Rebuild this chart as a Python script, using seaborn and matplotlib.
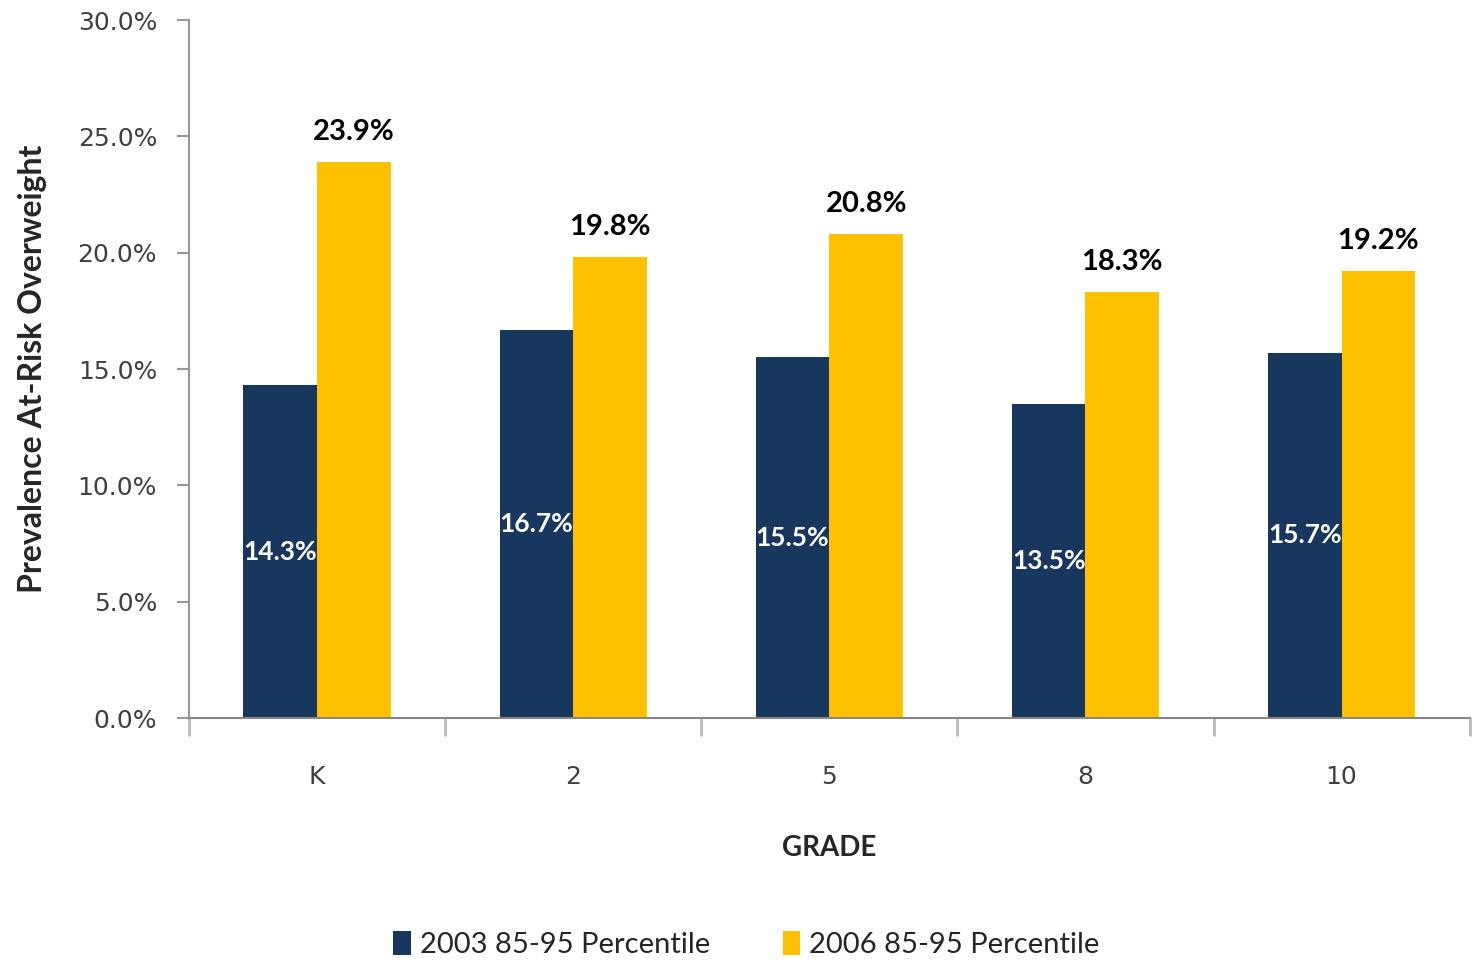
import matplotlib
matplotlib.use("Agg")
import matplotlib.pyplot as plt
import numpy as np
import pandas as pd
import seaborn as sns

# Chart data
grades = ["K", "2", "5", "8", "10"]
series_names = ["2003 85-95 Percentile", "2006 85-95 Percentile"]
values_2003 = [14.3, 16.7, 15.5, 13.5, 15.7]
values_2006 = [23.9, 19.8, 20.8, 18.3, 19.2]
y_ticks = [0, 5, 10, 15, 20, 25, 30]

colors = ["#17375E", "#FFC000"]


def main() -> None:
    """Main function"""
    df = pd.DataFrame(
        {
            "grade": grades * 2,
            "series": [series_names[0]] * len(grades) + [series_names[1]] * len(grades),
            "value": values_2003 + values_2006,
        }
    )

    sns.set_theme(style="white")
    plt.rcParams["font.family"] = ["Lato", "DejaVu Sans"]

    fig = plt.figure(figsize=(14.72, 9.6), dpi=100)
    ax = fig.add_axes([0.1284, 0.252, 0.870, 0.727])

    sns.barplot(
        data=df,
        x="grade",
        y="value",
        hue="series",
        order=grades,
        hue_order=series_names,
        palette=colors,
        width=0.575,
        saturation=1,
        linewidth=0,
        ax=ax,
        legend=True,
    )

    # Value labels
    dark, yellow = ax.containers[0], ax.containers[1]
    for bar, v in zip(dark, values_2003):
        ax.text(
            bar.get_x() + bar.get_width() / 2,
            v / 2,
            f"{v:.1f}%",
            ha="center",
            va="center",
            color="white",
            fontsize=19,
            fontweight="bold",
        )
    for bar, v in zip(yellow, values_2006):
        ax.text(
            bar.get_x() + bar.get_width() / 2,
            v + 0.75,
            f"{v:.1f}%",
            ha="center",
            va="bottom",
            color="black",
            fontsize=21,
            fontweight="bold",
        )

    ax.set_ylim(0, 30)
    ax.set_xlim(-0.5, len(grades) - 0.5)
    ax.set_yticks(y_ticks, [f"{t:.1f}%" for t in y_ticks], fontsize=18,
                  color="#404040", family="DejaVu Sans")
    ax.set_xticks(range(len(grades)), grades, fontsize=18, color="#404040",
                  family="DejaVu Sans")
    ax.tick_params(axis="x", length=0, pad=34)
    ax.tick_params(axis="y", length=9, width=1.5, color="#999999", left=True, pad=14)
    ax.set_xticks(np.arange(-0.5, len(grades)), minor=True)
    ax.tick_params(axis="x", which="minor", length=13, width=2, color="#bbbbbb", bottom=True)

    for side in ["top", "right"]:
        ax.spines[side].set_visible(False)
    ax.spines["left"].set_color("#999999")
    ax.spines["left"].set_linewidth(1.5)
    ax.spines["bottom"].set_color("#888888")
    ax.spines["bottom"].set_linewidth(1.5)

    ax.set_xlabel("GRADE", fontsize=20, fontweight="bold", labelpad=33)
    ax.set_ylabel("Prevalence At-Risk Overweight", fontsize=23, fontweight="bold", labelpad=22)

    handles, labels = ax.get_legend_handles_labels()
    ax.legend_.remove()
    fig.legend(
        handles,
        labels,
        loc="lower center",
        bbox_to_anchor=(0.507, -0.025),
        ncol=2,
        frameon=False,
        fontsize=21,
        handlelength=0.6,
        handleheight=0.9,
        handletextpad=0.3,
        columnspacing=2.5,
    )

    fig.savefig("out.png", dpi=100)
    plt.close(fig)


if __name__ == "__main__":
    main()
